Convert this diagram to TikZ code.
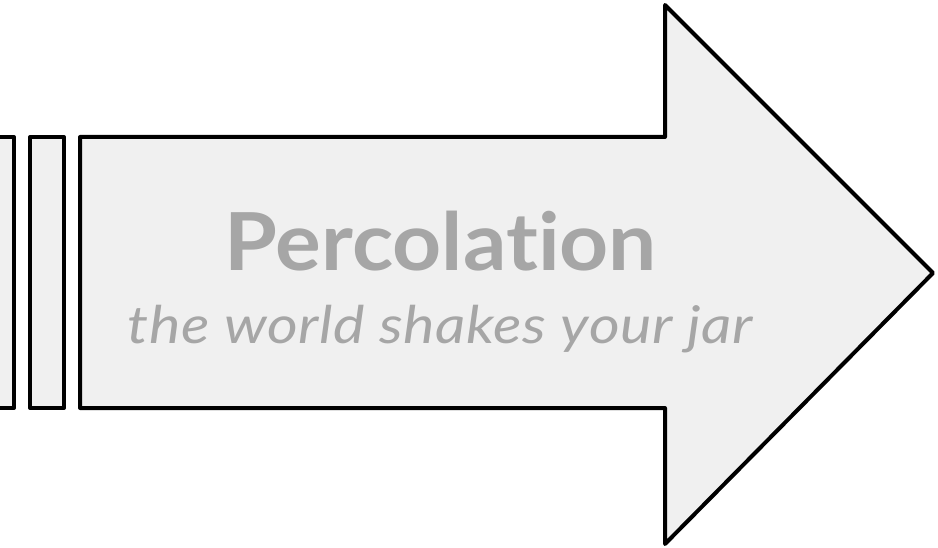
\documentclass[tikz,border=0pt]{standalone}
\usepackage{fontspec}
\setmainfont{Lato}[Ligatures=NoCommon]
\newfontfamily\titlefont{Lato}[Ligatures=NoCommon,FakeStretch=1.07]
\newfontfamily\subfont{Lato}[Ligatures=NoCommon,FakeStretch=1.14,LetterSpace=1.2]
\begin{document}
\begin{tikzpicture}[x=1pt,y=-1pt,
  shapeline/.style={draw=black,line width=4pt,line join=round,fill=fillgray},
  titletext/.style={text=textgray,font=\titlefont\bfseries\fontsize{80}{82}\selectfont,inner sep=0pt,anchor=base},
  subtext/.style={text=textgray,font=\subfont\itshape\fontsize{52}{56}\selectfont,inner sep=0pt,anchor=base}]
\definecolor{fillgray}{HTML}{F0F0F0}
\definecolor{textgray}{HTML}{A6A6A6}
\useasboundingbox (0,0) rectangle (938,548);
\clip (0,0) rectangle (938,548);
\path[shapeline] (-30,137) rectangle (14,408);
\path[shapeline] (30,137) rectangle (64,408);
\path[shapeline] (80,137) -- (665,137) -- (665,5) -- (933,273) -- (665,544) -- (665,408) -- (80,408) -- cycle;
\node[titletext] (title) at (441,271) {Percolation};
\node[subtext] (sub) at (440,344) {the world shakes your jar};
\end{tikzpicture}
\end{document}
